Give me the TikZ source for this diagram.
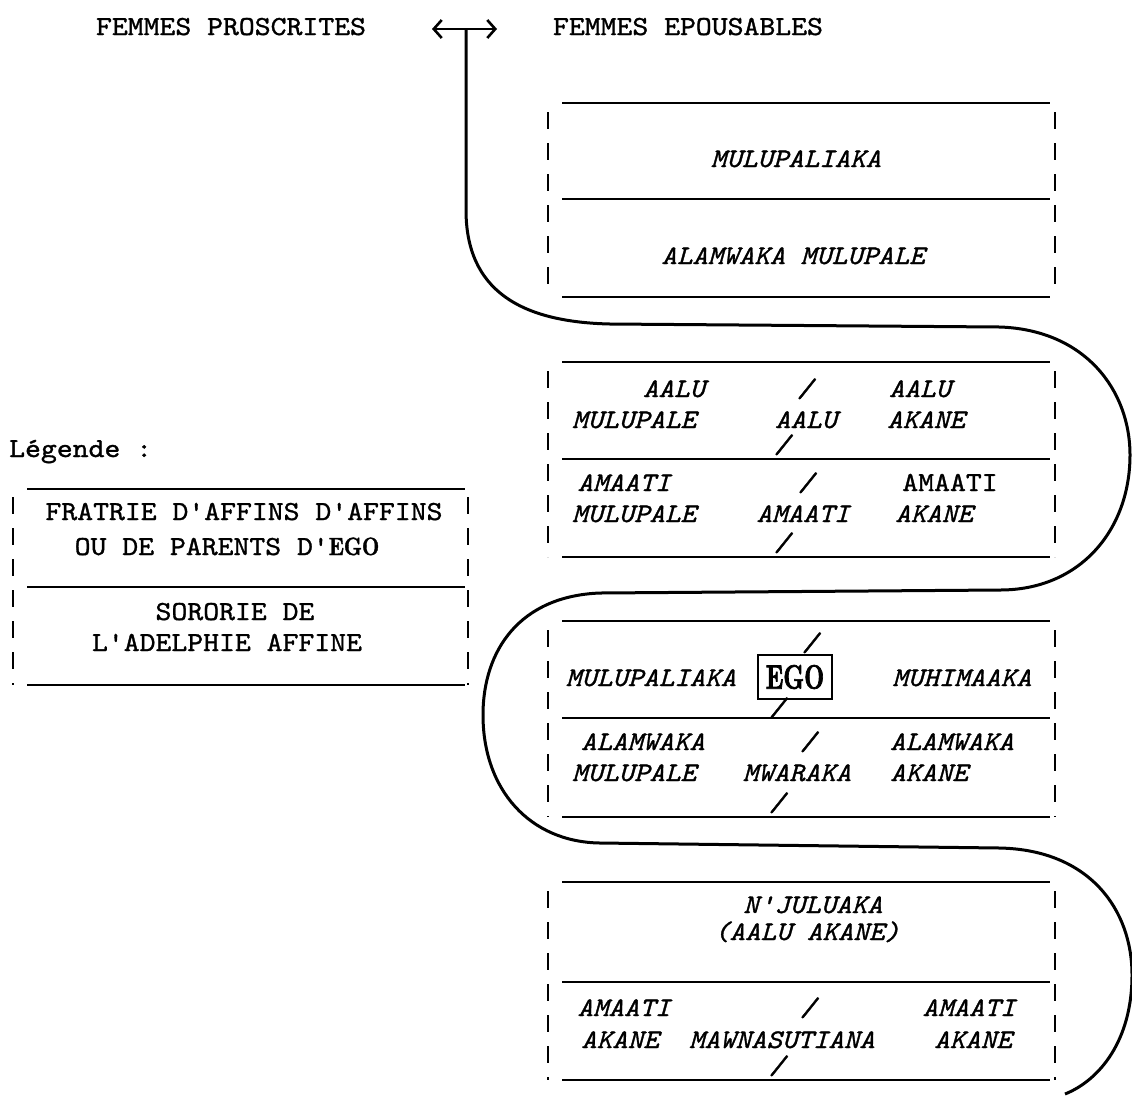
\documentclass[tikz,border=0pt]{standalone}
\usepackage{fontspec}
\usetikzlibrary{arrows.meta}
\newfontfamily\tw{lmmono10-regular.otf}[FakeStretch=1.1, FakeBold=1.2, ItalicFont=lmmono10-italic.otf]
\newfontfamily\egobig{lmroman10-bold.otf}[FakeStretch=0.68, FakeBold=2]
\newfontfamily\egosmall{lmroman10-bold.otf}[FakeStretch=0.8, FakeBold=1.5]
\tikzset{
  up/.style={font=\tw\fontsize{27.5}{30}\selectfont, inner sep=0pt, anchor=base},
  it/.style={font=\tw\itshape\fontsize{26.8}{30}\selectfont, inner sep=0pt, anchor=base},
  boxline/.style={line width=1.9pt},
  bar/.style={line width=2pt, dash pattern=on 17pt off 14pt},
  curve/.style={line width=3pt},
}
\newcommand\kinbox[3]{%
  \draw[boxline] (562,#1) -- (1050,#1) (562,#2) -- (1050,#2) (562,#3) -- (1050,#3);
  \draw[bar] (548,{#1+9}) -- (548,#3);
  \draw[bar] (1055,{#1+9}) -- (1055,#3);
}
\begin{document}
\begin{tikzpicture}[x=1pt,y=-1pt]
\fill[white] (0,0) rectangle (1132,1096);
\useasboundingbox (0,0) rectangle (1132,1096);

% titles
\node[up] (tproscr) at (231,35) {FEMMES PROSCRITES};
\node[up] (tepous) at (688,35) {FEMMES EPOUSABLES};

% arrow and serpentine
\coordinate (aL) at (432,29);
\coordinate (aR) at (497,29);
\coordinate (aM) at (466,29);
\draw[line width=2.6pt, {Straight Barb[length=8pt,width=18pt]}-{Straight Barb[length=8pt,width=18pt]}] (aL) -- (aR);
\draw[curve] (aM) -- (466,210)
  .. controls (466,290) and (520,322) .. (610,324)
  -- (1000,327)
  .. controls (1085,330) and (1130,390) .. (1130,455)
  .. controls (1130,530) and (1080,590) .. (1000,590)
  -- (600,593)
  .. controls (520,596) and (483,650) .. (483,715)
  .. controls (483,790) and (530,842) .. (600,843)
  -- (1000,848)
  .. controls (1090,850) and (1132,910) .. (1132,975)
  .. controls (1132,1040) and (1100,1080) .. (1065,1094);

% box 1
\kinbox{103}{199}{297}
\node[it] (b1a) at (796,167) {MULUPALIAKA};
\node[it] (b1b) at (793,264) {ALAMWAKA MULUPALE};

% box 2
\kinbox{362}{459}{557}
\node[it] (b2a) at (674,397) {AALU};
\node[it] (b2s1) at (805,397) {/};
\node[it] (b2b) at (920,397) {AALU};
\node[it] (b2c) at (634,428) {MULUPALE};
\node[it] (b2d) at (806,428) {AALU};
\node[it] (b2e) at (926,428) {AKANE};
\node[it] (b2s2) at (782,453) {/};
\node[it] (b2f) at (624,491) {AMAATI};
\node[it] (b2s3) at (806,491) {/};
\node[up] (b2g) at (950,491) {AMAATI};
\node[it] (b2h) at (634,522) {MULUPALE};
\node[it] (b2i) at (803,522) {AMAATI};
\node[it] (b2j) at (934,522) {AKANE};
\node[it] (b2s4) at (782,551) {/};

% box 3
\kinbox{621}{718}{817}
\node[it] (b3s1) at (810,651) {/};
\node[it] (b3a) at (651,686) {MULUPALIAKA};
\node[draw, line width=1.8pt, minimum width=74pt, minimum height=44pt, inner sep=0pt,
      font=\egobig\fontsize{34}{36}\selectfont] (ego) at (795,677) {EGO};
\node[it] (b3b) at (962,686) {MUHIMAAKA};
\node[it] (b3s2) at (777,716) {/};
\node[it] (b3c) at (643,750) {ALAMWAKA};
\node[it] (b3s3) at (808,750) {/};
\node[it] (b3d) at (952,750) {ALAMWAKA};
\node[it] (b3e) at (634,781) {MULUPALE};
\node[it] (b3f) at (797,781) {MWARAKA};
\node[it] (b3g) at (929,781) {AKANE};
\node[it] (b3s4) at (777,811) {/};

% box 4
\kinbox{882}{982}{1080}
\node[it] (b4a) at (813,913) {N'JULUAKA};
\node[it] (b4b) at (807,940) {(AALU AKANE)};
\node[it] (b4c) at (624,1016) {AMAATI};
\node[it] (b4s1) at (808,1016) {/};
\node[it] (b4d) at (969,1016) {AMAATI};
\node[it] (b4e) at (620,1048) {AKANE};
\node[it] (b4f) at (782,1048) {MAWNASUTIANA};
\node[it] (b4g) at (973,1048) {AKANE};
\node[it] (b4s2) at (777,1074) {/};

% legend
\node[up, anchor=base west] (leg) at (9,457) {Légende :};
\draw[boxline] (27,489) -- (465,489) (27,587) -- (465,587) (27,685) -- (465,685);
\draw[bar] (13,497) -- (13,685);
\draw[bar] (468,497) -- (468,685);
\node[up] (l1) at (244,520) {FRATRIE D'AFFINS D'AFFINS};
\node[up] (l2) at (227,555) {OU DE PARENTS D'{\egosmall\fontsize{25}{27}\selectfont EGO}};
\node[up] (l3) at (235,620) {SORORIE DE};
\node[up] (l4) at (227,651) {L'ADELPHIE AFFINE};
\end{tikzpicture}
\end{document}
